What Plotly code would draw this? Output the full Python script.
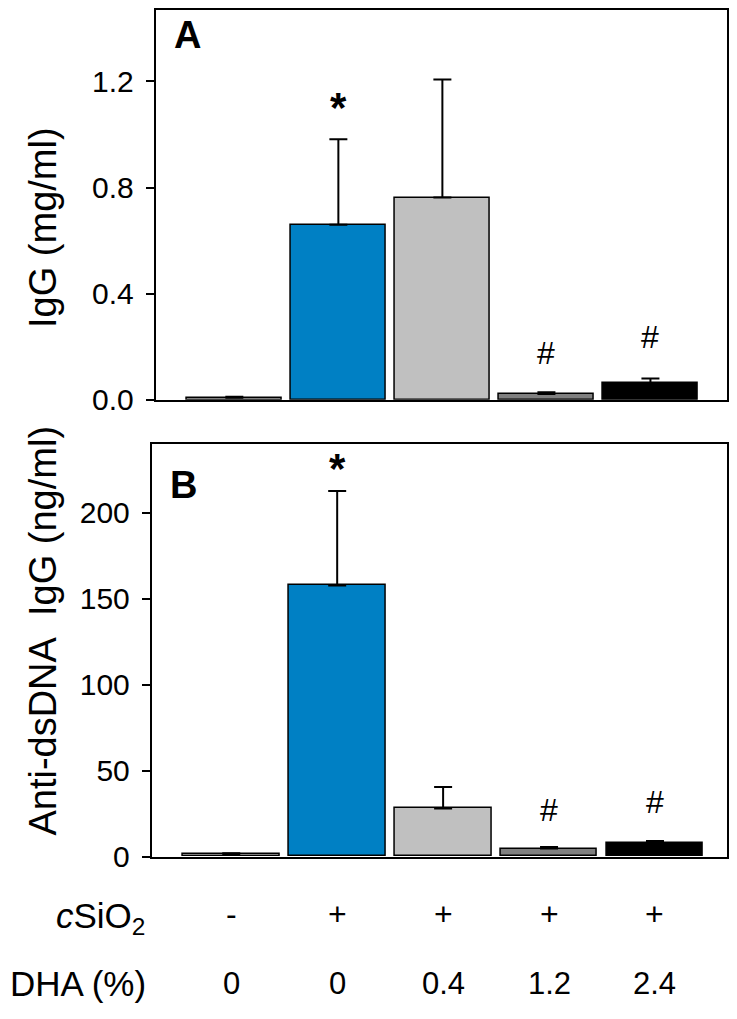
import plotly.graph_objects as go

groups = ["g1", "g2", "g3", "g4", "g5"]
csio2_labels = ["-", "+", "+", "+", "+"]
dha_labels = ["0", "0", "0.4", "1.2", "2.4"]
bar_colors = ["#FFFFFF", "#0080C4", "#C0C0C0", "#808080", "#000000"]

igg_mean = [0.008, 0.66, 0.762, 0.022, 0.063]
igg_err = [0.004, 0.322, 0.445, 0.007, 0.017]
igg_marks = ["", "*", "", "#", "#"]
igg_mark_y = [None, 1.10, None, 0.175, 0.235]

dna_mean = [1.5, 157.7, 28.0, 4.6, 8.0]
dna_err = [0.4, 55.0, 12.4, 1.0, 1.0]
dna_marks = ["", "*", "", "#", "#"]
dna_mark_y = [None, 226, None, 27, 32]

FONT = "Arial, 'Liberation Sans', sans-serif"
# page is 737x1019; the browser's default 8px body margin surrounds the figure
OFF = 8
W, H = 737 - 2 * OFF, 1019 - 2 * OFF
xs = list(range(len(groups)))

def px(x):   # page x pixel -> paper fraction
    return (x - OFF) / W

def py(y):   # page y pixel -> paper fraction
    return 1 - (y - OFF) / H

fig = go.Figure()
fig.add_trace(go.Bar(
    x=xs, y=igg_mean, width=0.91,
    marker=dict(color=bar_colors, line=dict(color="black", width=1.5)),
    error_y=dict(type="data", array=igg_err, arrayminus=[0]*5, symmetric=False,
                 color="black", thickness=2, width=9),
    xaxis="x", yaxis="y", showlegend=False))
fig.add_trace(go.Bar(
    x=xs, y=dna_mean, width=0.91,
    marker=dict(color=bar_colors, line=dict(color="black", width=1.5)),
    error_y=dict(type="data", array=dna_err, arrayminus=[0]*5, symmetric=False,
                 color="black", thickness=2, width=9),
    xaxis="x2", yaxis="y2", showlegend=False))

ann = []
def mark(i, m, yv, xr, yr):
    if m == "*":
        return dict(x=i, y=yv, xref=xr, yref=yr, text="<b>*</b>", showarrow=False,
                    xanchor="center", yanchor="middle",
                    font=dict(size=42, family=FONT, color="black"))
    return dict(x=i, y=yv, xref=xr, yref=yr, text="#", showarrow=False,
                xanchor="center", yanchor="middle",
                font=dict(size=32, family=FONT, color="black"))

for i, (m, yv) in enumerate(zip(igg_marks, igg_mark_y)):
    if m:
        ann.append(mark(i, m, yv, "x", "y"))
for i, (m, yv) in enumerate(zip(dna_marks, dna_mark_y)):
    if m:
        ann.append(mark(i, m, yv, "x2", "y2"))

def pap(x, y, text, size, xanchor="center", angle=0):
    return dict(x=px(x), y=py(y), xref="paper", yref="paper", text=text, textangle=angle,
                xanchor=xanchor, yanchor="middle", showarrow=False,
                font=dict(size=size, family=FONT, color="black"))

# panel letters
ann.append(pap(172, 34, "<b>A</b>", 38, "left"))
ann.append(pap(168, 493, "<b>B</b>", 38, "left"))

# y titles
ann.append(pap(43, 230, "IgG (mg/ml)", 38, "center", -90))
ann.append(pap(43, 641, "Anti-dsDNA\u00a0 IgG (ng/ml)", 38, "center", -90))

# bottom rows
ann.append(pap(148, 934, "<i>c</i>SiO<sub>2</sub>", 35, "right"))
ann.append(pap(148, 1000, "DHA (%)", 35, "right"))
for i in xs:
    ann.append(dict(x=i, y=py(930), xref="x2", yref="paper", text=csio2_labels[i],
                    xanchor="center", yanchor="middle", showarrow=False,
                    font=dict(size=32, family=FONT, color="black")))
    ann.append(dict(x=i, y=py(1000), xref="x2", yref="paper", text=dha_labels[i],
                    xanchor="center", yanchor="middle", showarrow=False,
                    font=dict(size=31, family=FONT, color="black")))

axis_common = dict(showline=True, linecolor="black", linewidth=2, mirror=True, showgrid=False, zeroline=False)

fig.update_layout(
    width=W, height=H, margin=dict(l=0, r=0, t=0, b=0),
    paper_bgcolor="white", plot_bgcolor="white", bargap=0,
    font=dict(family=FONT, color="black"),
    xaxis=dict(domain=[px(156), px(728)], range=[-0.755, 4.736], anchor="y", showticklabels=False,
               ticks="", **axis_common),
    yaxis=dict(domain=[py(406), py(9)], range=[0, 1.469], anchor="x", tickvals=[0, 0.4, 0.8, 1.2],
               tickformat=".1f", ticks="outside", ticklen=8, tickwidth=2, tickcolor="black",
               tickfont=dict(size=30, family=FONT), ticklabelstandoff=6, **axis_common),
    xaxis2=dict(domain=[px(152), px(728)], range=[-0.75, 4.68], anchor="y2", showticklabels=False,
                ticks="", **axis_common),
    yaxis2=dict(domain=[py(871), py(451)], range=[0, 240], anchor="x2", tickvals=[0, 50, 100, 150, 200],
                ticks="outside", ticklen=8, tickwidth=2, tickcolor="black",
                tickfont=dict(size=30, family=FONT), ticklabelstandoff=6, **axis_common),
    annotations=ann,
)

fig.write_html("out.html", config={"displayModeBar": False})
